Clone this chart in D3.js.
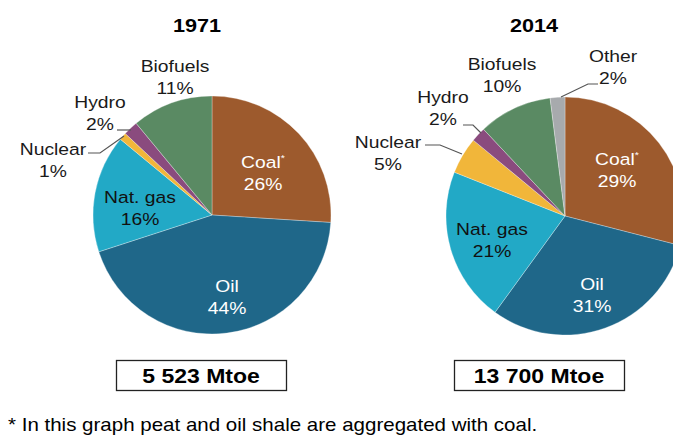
<!DOCTYPE html>
<html>
<head>
<meta charset="utf-8">
<script src="https://cdn.jsdelivr.net/npm/d3@7"></script>
<style>
  body { margin: 0; background: #fff; }
  svg { display: block; font-family: "Liberation Sans", Arial, sans-serif; }
</style>
</head>
<body>
<div id="chart"></div>
<script>
// data
const categories = ["Coal", "Oil", "Nat. gas", "Nuclear", "Hydro", "Biofuels", "Other"];
const share1971 = [26, 44, 16, 1, 2, 11, 0];
const share2014 = [29, 31, 21, 5, 2, 10, 2];
const years = ["1971", "2014"];
const totals = ["5 523 Mtoe", "13 700 Mtoe"];
const footnote = "* In this graph peat and oil shale are aggregated with coal.";

const colors = d3.scaleOrdinal()
  .domain(categories)
  .range(["#9d5a2d", "#1f6789", "#22a9c6", "#f1b63a", "#8a4b7e", "#5a8a63", "#a7aaad"]);

const W = 673, H = 436, R = 119, SX = 1.17;

const svg = d3.select("#chart").append("svg").attr("width", W).attr("height", H);

// text with the slightly wide look of the original
let txt = (g, x, y, lines, o = {}) => {
  let t = g.append("text")
    .attr("transform", `translate(${x},${y}) scale(${o.sx || SX},1)`)
    .attr("text-anchor", o.anchor || "middle")
    .attr("font-size", o.size || 16.5)
    .attr("font-weight", o.weight || "normal")
    .attr("fill", o.fill || "#1a1a1a");
  lines.forEach((l, i) => {
    let ts = t.append("tspan").attr("x", 0).attr("y", i * (o.lh || 22));
    if (l.endsWith("*")) {
      ts.text(l.slice(0, -1));
      ts.append("tspan").attr("font-size", 9).attr("baseline-shift", "7").text("*");
    } else ts.text(l);
  });
  return t;
};

// layout: label offsets from each pie centre
const pies = [
  {cx: 212, cy: 215, values: share1971, titleX: 197, boxX: 116,
   inside: {"Coal": [51, -47], "Oil": [15, 77], "Nat. gas": [-72, -12]},
   outside: {
     "Biofuels": [-37, -143],
     "Hydro": [-112, -107, [[117, 130], [131, 130]]],
     "Nuclear": [-159, -60, [[88, 153], [100, 153], [124, 136]]]
   }},
  {cx: 565, cy: 216, values: share2014, titleX: 534, boxX: 454,
   inside: {"Coal": [52, -51], "Oil": [27, 74], "Nat. gas": [-73, 19]},
   outside: {
     "Biofuels": [-63, -146],
     "Other": [48, -154, [[598, 84], [588, 84], [561, 97]]],
     "Hydro": [-122, -113, [[463, 125], [473, 125], [481, 133]]],
     "Nuclear": [-177, -68, [[425, 145], [440, 145], [462, 154]]]
   }}
];

let pie = d3.pie().sort(null).value(d => d.v);
let arc = d3.arc().innerRadius(0).outerRadius(R);

pies.forEach((p, k) => {
  let data = categories.map((c, i) => ({c: c, v: p.values[i]})).filter(d => d.v > 0);
  let g = svg.append("g").attr("transform", `translate(${p.cx},${p.cy})`);

  g.selectAll("path")
    .data(pie(data))
    .enter().append("path")
    .attr("d", arc)
    .attr("fill", d => colors(d.data.c))
    .attr("stroke", "#fff")
    .attr("stroke-width", 0.3);

  data.forEach(d => {
    let lab = d.c === "Coal" ? "Coal*" : d.c;
    if (p.inside[d.c]) {
      let [x, y] = p.inside[d.c];
      txt(g, x, y, [lab, d.v + "%"], {fill: d.c === "Nat. gas" ? "#111" : "#fff"});
    } else if (p.outside[d.c]) {
      let [x, y, pts] = p.outside[d.c];
      txt(g, x, y, [lab, d.v + "%"]);
      if (pts) {
        svg.append("path")
          .attr("d", d3.line()(pts))
          .attr("fill", "none")
          .attr("stroke", "#555")
          .attr("stroke-width", 1.2);
      }
    }
  });

  txt(svg, p.titleX, 32, [years[k]], {size: 18.5, weight: "bold", fill: "#000"});

  svg.append("rect")
    .attr("x", p.boxX + 0.5).attr("y", 360.5)
    .attr("width", 170).attr("height", 30)
    .attr("fill", "#fff").attr("stroke", "#222").attr("stroke-width", 1.3);
  txt(svg, p.boxX + 85, 383, [totals[k]], {size: 20, weight: "bold", fill: "#000", sx: 1.15});
});

txt(svg, 8, 431, [footnote], {anchor: "start", size: 18, fill: "#000", sx: 1.14});
</script>
</body>
</html>
